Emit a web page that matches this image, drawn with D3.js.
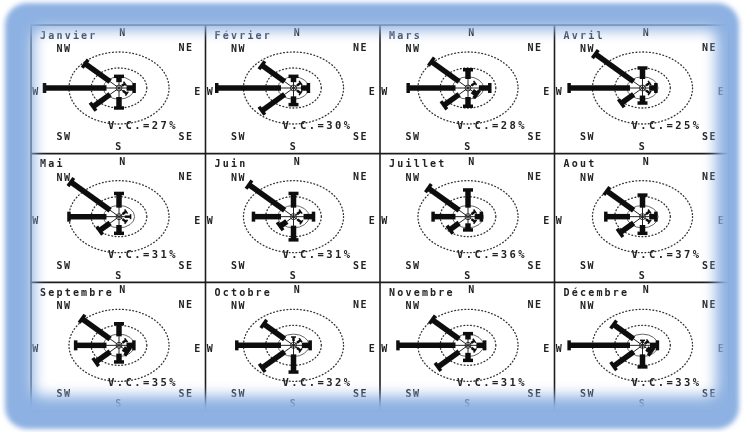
<!DOCTYPE html>
<html>
<head>
<meta charset="utf-8">
<script src="https://cdn.jsdelivr.net/npm/d3@7"></script>
<style>
  body { margin: 0; background: #fff; }
  text { font-family: 'DejaVu Sans Mono', monospace; font-weight: bold; fill: #222; }
</style>
</head>
<body>
<div id="main"></div>
<script>
/*********************************************************
 * Data: monthly wind frequencies (%) by direction
 *********************************************************/

const months = ['Janvier', 'Février', 'Mars', 'Avril', 'Mai', 'Juin',
  'Juillet', 'Aout', 'Septembre', 'Octobre', 'Novembre', 'Décembre'];
const directions = ['N', 'NE', 'E', 'SE', 'S', 'SW', 'W', 'NW'];

// N, NE, E, SE, S, SW, W, NW
const janvier = [4.8, 1.3, 4.3, 2.5, 10, 14, 31, 19];
const fevrier = [4.8, 2, 4.2, 2, 7.9, 17.6, 32, 17.6];
const mars = [8.9, 2, 7.3, 3, 8.9, 12.8, 24.4, 20.8];
const avril = [10, 2, 3.5, 2, 6.9, 11, 30.5, 27.5];
const mai = [12, 2, 2.7, 2, 7.9, 9.8, 20, 28.1];
const juin = [12, 2, 6.5, 2.5, 12, 6, 15.5, 25.8];
const juillet = [14.2, 2, 3.5, 2, 5.8, 9, 13.2, 22.7];
const aout = [11, 2, 3.5, 2, 7.9, 11.8, 14, 20.2];
const septembre = [11, 2, 4.2, 3, 7.9, 12.3, 17, 21];
const octobre = [2.7, 2, 5, 2, 14.2, 17.4, 23, 16.4];
const novembre = [4.8, 1.5, 5, 2, 6.9, 16.6, 29, 20.2];
const decembre = [0.6, 1, 4.2, 3, 11, 15.9, 30.5, 15.9];

// vents calmes (%)
const calms = [27, 30, 28, 25, 31, 31, 36, 37, 35, 32, 31, 33];

// dotted reference rings (%)
const ringValues = [10, 20];

/*********************************************************
 * Define the global layout
 *********************************************************/

const svgWidth = 744;
const svgHeight = 432;
const nCols = 4;
const nRows = 3;
const aspect = 1.39; // the scanned roses are stretched horizontally

const svg = d3
  .select('#main')
  .append('svg')
  .attr('width', svgWidth)
  .attr('height', svgHeight);

const defs = svg.append('defs');

defs.append('filter').attr('id', 'scan')
  .append('feGaussianBlur').attr('stdDeviation', 0.35);

defs.append('filter').attr('id', 'glow')
  .attr('x', '-10%').attr('y', '-10%').attr('width', '120%').attr('height', '120%')
  .append('feGaussianBlur').attr('stdDeviation', 2.5);

defs.append('filter').attr('id', 'soft')
  .attr('x', '-10%').attr('y', '-10%').attr('width', '120%').attr('height', '120%')
  .append('feGaussianBlur').attr('stdDeviation', 7);

const mask = defs.append('mask').attr('id', 'frameMask')
  .attr('maskUnits', 'userSpaceOnUse')
  .attr('x', 0).attr('y', 0).attr('width', svgWidth).attr('height', svgHeight);
mask.append('rect')
  .attr('width', svgWidth).attr('height', svgHeight).attr('fill', '#fff');
mask.append('rect')
  .attr('x', 34).attr('y', 30).attr('width', 682).attr('height', 366)
  .attr('rx', 8)
  .attr('fill', '#000')
  .attr('filter', 'url(#soft)');

// Scales for the grid of panels
const colX = d3.scaleLinear().domain([0, nCols]).range([31, 729]);
const rowY = d3.scaleLinear().domain([0, nRows]).range([25, 411]);

// Radial scale (vertical pixels), angle per direction
const rScale = d3.scaleLinear().domain([0, 20]).range([4, 36]);
const angle = d3.scalePoint().domain(directions).range([0, 315]);

const center = { x: 88, y: 63 };

function polar(dir, r) {
  const a = angle(dir) * Math.PI / 180;
  return [r * Math.sin(a) * aspect, -r * Math.cos(a)];
}

/*********************************************************
 * Draw grid and panels
 *********************************************************/

const content = svg.append('g').attr('filter', 'url(#scan)');

const freqs = [janvier, fevrier, mars, avril, mai, juin,
  juillet, aout, septembre, octobre, novembre, decembre];

const panelData = months.map((m, i) => ({
  month: m,
  calm: calms[i],
  col: i % nCols,
  row: Math.floor(i / nCols),
  spokes: directions.map((d, j) => ({ dir: d, value: freqs[i][j] }))
}));

// grid lines
content.append('g')
  .selectAll('line')
  .data(d3.range(nCols + 1))
  .enter()
  .append('line')
  .attr('x1', d => colX(d)).attr('x2', d => colX(d))
  .attr('y1', rowY(0)).attr('y2', rowY(nRows))
  .attr('stroke', '#1e1e1e')
  .attr('stroke-width', 1.6);

content.append('g')
  .selectAll('line')
  .data(d3.range(nRows + 1))
  .enter()
  .append('line')
  .attr('x1', colX(0)).attr('x2', colX(nCols))
  .attr('y1', d => rowY(d)).attr('y2', d => rowY(d))
  .attr('stroke', '#1e1e1e')
  .attr('stroke-width', 1.6);

const panels = content
  .selectAll('.panel')
  .data(panelData)
  .enter()
  .append('g')
  .attr('class', 'panel')
  .attr('transform', d => `translate(${colX(d.col)}, ${rowY(d.row)})`);

// compass labels
const labels = [
  { t: 'N', x: 92, y: 11 },
  { t: 'NW', x: 33, y: 27 },
  { t: 'NE', x: 155, y: 26 },
  { t: 'W', x: 5, y: 70 },
  { t: 'E', x: 167, y: 70 },
  { t: 'SW', x: 33, y: 115 },
  { t: 'SE', x: 155, y: 115 },
  { t: 'S', x: 88, y: 125 }
];

panels.each(function(p) {
  const g = d3.select(this);

  g.selectAll('.lab')
    .data(labels)
    .enter()
    .append('text')
    .attr('class', 'lab')
    .attr('x', d => d.x)
    .attr('y', d => d.y)
    .attr('text-anchor', 'middle')
    .attr('font-size', 10)
    .attr('letter-spacing', 1.5)
    .text(d => d.t);

  g.append('text')
    .attr('x', 9)
    .attr('y', 13.5)
    .attr('font-size', 10)
    .attr('letter-spacing', 2.2)
    .style('fill', p.row === 0 ? '#3c4a5c' : '#222')
    .text(p.month);

  const rose = g.append('g')
    .attr('transform', `translate(${center.x}, ${center.y})`);

  // dotted rings
  rose.selectAll('.ring')
    .data(ringValues)
    .enter()
    .append('ellipse')
    .attr('rx', d => rScale(d) * aspect)
    .attr('ry', d => rScale(d))
    .attr('fill', 'none')
    .attr('stroke', '#333')
    .attr('stroke-width', 1.3)
    .attr('stroke-linecap', 'round')
    .attr('stroke-dasharray', '0.8 2.6');

  // calm circle
  rose.append('ellipse')
    .attr('rx', rScale(4.5) * aspect)
    .attr('ry', rScale(4.5))
    .attr('fill', 'none')
    .attr('stroke', '#555')
    .attr('stroke-width', 0.9);

  rose.append('circle')
    .attr('r', 3)
    .attr('fill', 'none')
    .attr('stroke', '#333')
    .attr('stroke-width', 1);

  p.spokes.forEach(s => {
    const rEnd = rScale(s.value);
    const small = s.value < 3;
    const rStart = Math.min(9, rEnd * 0.5);
    const end = polar(s.dir, rEnd);
    const start = polar(s.dir, rStart);
    const len = Math.hypot(end[0], end[1]);
    const ux = end[0] / len, uy = end[1] / len;
    const half = small ? 2.5 : 5;

    // thin line from center
    rose.append('line')
      .attr('x1', 0).attr('y1', 0)
      .attr('x2', end[0]).attr('y2', end[1])
      .attr('stroke', '#222')
      .attr('stroke-width', 1);

    // thick bar
    rose.append('line')
      .attr('x1', start[0]).attr('y1', start[1])
      .attr('x2', end[0]).attr('y2', end[1])
      .attr('stroke', '#111')
      .attr('stroke-width', small ? 2.5 : 5.5);

    // end cap
    rose.append('line')
      .attr('x1', end[0] - uy * half).attr('y1', end[1] + ux * half)
      .attr('x2', end[0] + uy * half).attr('y2', end[1] - ux * half)
      .attr('stroke', '#111')
      .attr('stroke-width', small ? 1.5 : 3.5);
  });

  g.append('text')
    .attr('x', center.x + 24)
    .attr('y', center.y + 41)
    .attr('text-anchor', 'middle')
    .attr('font-size', 10.5)
    .attr('letter-spacing', 2.4)
    .text('V.C.=' + p.calm + '%');
});

/*********************************************************
 * Blue glowing frame laid over the scan
 *********************************************************/

svg.append('rect')
  .attr('x', 5)
  .attr('y', 3)
  .attr('width', 734)
  .attr('height', 426)
  .attr('rx', 22)
  .attr('fill', '#8db1e2')
  .attr('mask', 'url(#frameMask)')
  .attr('filter', 'url(#glow)');
</script>
</body>
</html>
